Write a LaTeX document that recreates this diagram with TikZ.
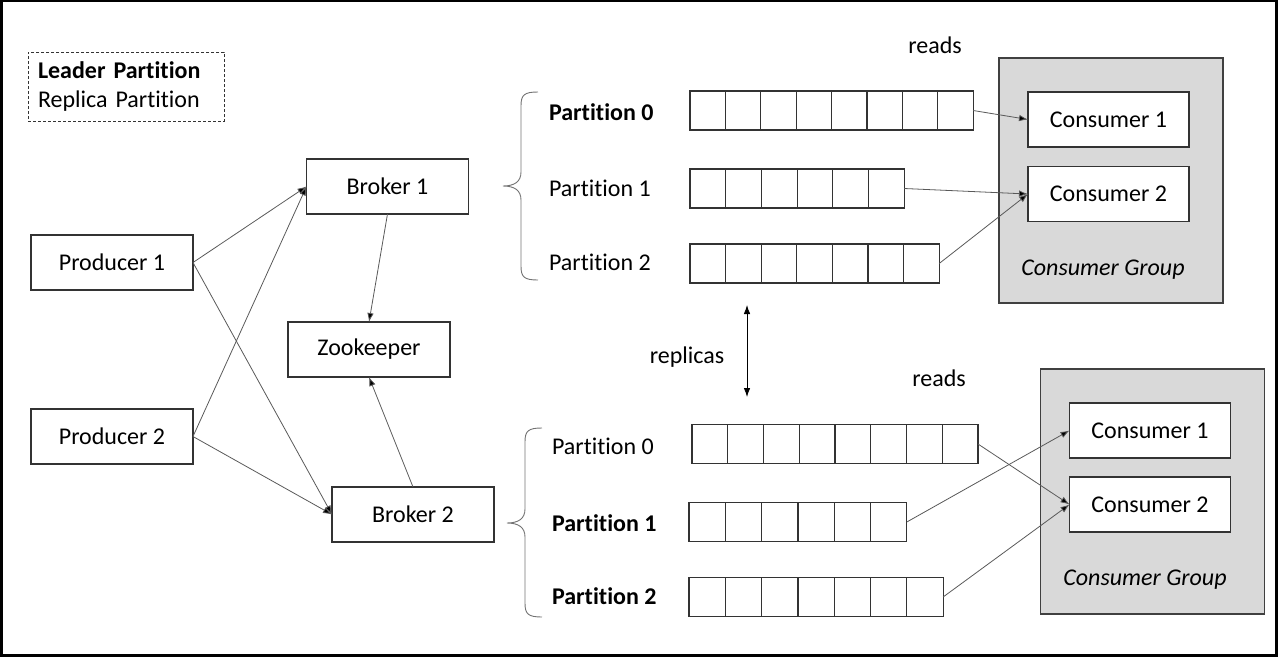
\documentclass[tikz,border=0pt]{standalone}
\usepackage{fontspec}
\setmainfont{Carlito}[Ligatures=NoCommon]
\usetikzlibrary{arrows.meta}

\begin{document}
\begin{tikzpicture}[x=1pt, y=-1pt, font=\fontsize{24}{29}\selectfont,
		every node/.style={inner sep=0pt, outer sep=0pt},
		box/.style={rectangle, draw=black!80, line width=1.2pt, fill=white, minimum width=162pt, minimum height=55pt},
		cell/.style={rectangle, draw=black!80, line width=1.2pt, minimum height=39pt},
		group/.style={rectangle, draw=black!75, line width=1.2pt, fill=black!15, minimum width=224pt, minimum height=245pt},
		arr/.style={draw=black!65, line width=0.8pt, -{Latex[length=9pt,width=6.5pt,fill=black]}},
		brace/.style={draw=black!55, line width=0.9pt}]
	\useasboundingbox (0,0) rectangle (1278,657);
	\draw[line width=3pt] (1.5,0.5) rectangle (1276.5,655.5);
	% legend
	\node[draw=black!80, line width=1pt, dash pattern=on 3pt off 2pt, minimum width=196pt, minimum height=69pt,
		inner xsep=10pt, text width=176pt, align=left] (lgd) at (126,86.5) {\textbf{Leader Partition}\\Replica Partition};
	% producers, brokers, zookeeper
	\node[box] (P1) at (112,262.5) {Producer 1};
	\node[box] (P2) at (112,436.5) {Producer 2};
	\node[box] (B1) at (387.5,186.5) {Broker 1};
	\node[box] (B2) at (413,514.5) {Broker 2};
	\node[box] (ZK) at (369,349.5) {Zookeeper};
	\draw[arr] (P1.east) -- (B1.west);
	\draw[arr] (P1.east) -- (B2.west);
	\draw[arr] (P2.east) -- (B1.west);
	\draw[arr] (P2.east) -- (B2.west);
	\draw[arr] (B1.south) -- (ZK.north);
	\draw[arr] (B2.north) -- (ZK.south);
	% braces
	\draw[brace] (538,92) .. controls (524,92) and (521,95) .. (521,106) -- (521,172)
		.. controls (521,182) and (514,186) .. (503,186) .. controls (514,186) and (521,190) .. (521,200)
		-- (521,266) .. controls (521,277) and (524,280) .. (538,280);
	\draw[brace] (542,428) .. controls (528,428) and (525,431) .. (525,442) -- (525,509)
		.. controls (525,519) and (518,523) .. (507,523) .. controls (518,523) and (525,527) .. (525,537)
		-- (525,603) .. controls (525,614) and (528,617) .. (542,617);
	% partitions
	\node[anchor=west] (tl0) at (549,112) {\textbf{Partition 0}};
	\node[anchor=west] (tl1) at (549,188) {Partition 1};
	\node[anchor=west] (tl2) at (549,262) {Partition 2};
	\node[anchor=west] (bl0) at (552,446) {Partition 0};
	\node[anchor=west] (bl1) at (552,523) {\textbf{Partition 1}};
	\node[anchor=west] (bl2) at (552,596) {\textbf{Partition 2}};
	\foreach \r/\n/\x/\y/\w in {t0/8/690/110.5/35.4, t1/6/690/188.5/35.7, t2/7/690/263.5/35.6,
		b0/8/692/444/35.75, b1/6/689/522/36.3, b2/7/689/597/36.3}
		\foreach \i in {1,...,\n}
			\node[cell, minimum width=\w pt] (\r-\i) at ({\x+\w*(\i-0.5)},\y) {};
	% replicas
	\coordinate (rtop) at (747,305);
	\coordinate (rbot) at (747,397);
	\draw[line width=0.8pt, {Latex[length=9pt,width=6.5pt]}-{Latex[length=9pt,width=6.5pt]}] (rtop) -- (rbot);
	\node (rep) at (687,357) {replicas};
	% consumer groups
	\node[group] (G1) at (1111,180.5) {};
	\node[group] (G2) at (1152.5,491.5) {};
	\node[box, minimum width=161pt] (tc1) at (1108.5,119.5) {Consumer 1};
	\node[box, minimum width=161pt] (tc2) at (1108.5,194) {Consumer 2};
	\node[box, minimum width=161pt] (bc1) at (1150,430.5) {Consumer 1};
	\node[box, minimum width=161pt] (bc2) at (1150,504.5) {Consumer 2};
	\node (g1l) at (1103,270) {\itshape Consumer Group};
	\node (g2l) at (1145,580) {\itshape Consumer Group};
	\node (rd1) at (935,45) {reads};
	\node (rd2) at (939,378) {reads};
	\draw[arr] (t0-8.east) -- (tc1.west);
	\draw[arr] (t1-6.east) -- (tc2.west);
	\draw[arr] (t2-7.east) -- (tc2.west);
	\draw[arr] (b0-8.east) -- (bc2.west);
	\draw[arr] (b1-6.east) -- (bc1.west);
	\draw[arr] (b2-7.east) -- (bc2.west);
\end{tikzpicture}
\end{document}
